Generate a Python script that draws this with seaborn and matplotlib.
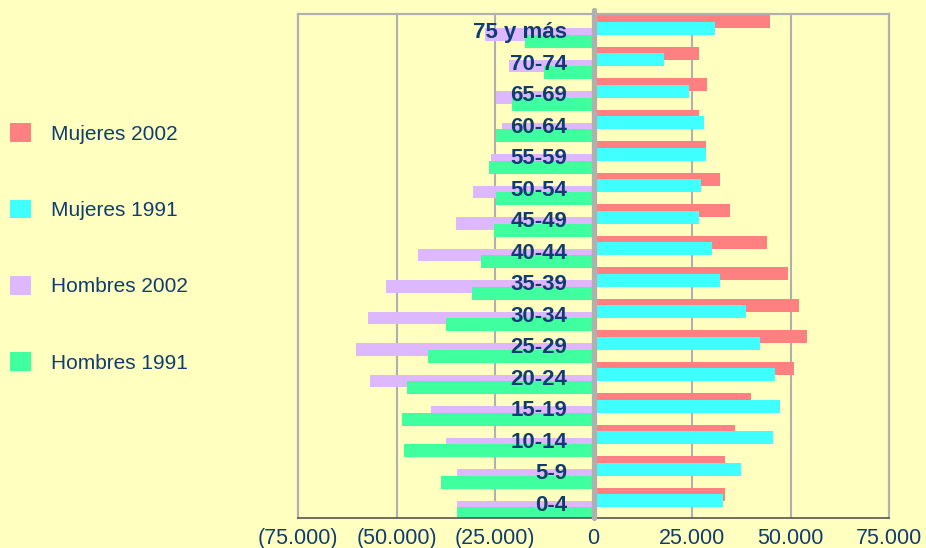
import pandas as pd
import matplotlib.pyplot as plt
import seaborn as sns
from matplotlib.patches import Patch

# Age groups (top to bottom)
grupos = ["75 y más", "70-74", "65-69", "60-64", "55-59", "50-54", "45-49", "40-44",
          "35-39", "30-34", "25-29", "20-24", "15-19", "10-14", "5-9", "0-4"]

mujeres_2002 = [44900, 26650, 28930, 26650, 28680, 31980, 34770, 43910,
                49490, 52280, 54310, 51010, 39850, 36040, 33500, 33500]
mujeres_1991 = [30960, 17770, 24360, 28170, 28680, 27160, 26650, 30200,
                31980, 38580, 42380, 46190, 47460, 45680, 37560, 32990]
hombres_2002 = [27660, 21320, 24870, 23350, 26140, 30710, 35020, 44420,
                52540, 57360, 60400, 56850, 41370, 37310, 34770, 34520]
hombres_1991 = [17510, 12690, 20560, 24870, 26400, 24620, 25130, 28680,
                30960, 37310, 42130, 47210, 48730, 47970, 38830, 34520]

x_ticks = [-75000, -50000, -25000, 0, 25000, 50000, 75000]
x_labels = ["(75.000)", "(50.000)", "(25.000)", "0", "25.000", "50.000", "75.000"]

# Styling
bg = "#FFFFBF"
navy = "#103C72"
grid_grey = "#B0B0B0"
series = [
    ("Mujeres 2002", mujeres_2002, 1, "#FF8080", -0.255),
    ("Mujeres 1991", mujeres_1991, 1, "#40FFFF", -0.048),
    ("Hombres 2002", hombres_2002, -1, "#DDB8FF", 0.15),
    ("Hombres 1991", hombres_1991, -1, "#40FF9F", 0.37),
]

sns.set_theme(style="white")
plt.rcParams["font.family"] = ["Liberation Sans", "DejaVu Sans"]

fig = plt.figure(figsize=(9.26, 5.48), dpi=100, facecolor=bg)
ax = fig.add_axes([298 / 926, 1 - 518 / 548, 591 / 926, 504 / 548])
ax.set_facecolor(bg)

for nombre, valores, signo, color, off in series:
    df = pd.DataFrame({
        "pos": [i + off for i in range(len(grupos))],
        "valor": [signo * v for v in valores],
    })
    sns.barplot(data=df, x="valor", y="pos", orient="h", native_scale=True,
                color=color, saturation=1, width=0.41, linewidth=0,
                errorbar=None, ax=ax, zorder=2)

# gridlines
for xv in [-50000, -25000, 25000, 50000]:
    ax.axvline(xv, color=grid_grey, lw=1.5, zorder=0)
ax.axvline(0, ymin=0, ymax=1.008, color=grid_grey, lw=3.8, zorder=5, clip_on=False)

# category labels inside the plot
for i, g in enumerate(grupos):
    ax.text(-6600, i + 0.1, g, ha="right", va="center", fontsize=16,
            fontweight="bold", color=navy, zorder=6)

ax.set_xlim(-75000, 75000)
ax.set_ylim(len(grupos) - 0.5, -0.5)
ax.set_yticks([])
ax.set_xticks(x_ticks)
ax.set_xticklabels(x_labels, fontsize=15.5, color=navy)
ax.tick_params(axis="x", length=0, pad=7)
ax.set_xlabel("")
ax.set_ylabel("")

for side in ["left", "top", "right"]:
    ax.spines[side].set_color(grid_grey)
    ax.spines[side].set_linewidth(1.6)
ax.spines["bottom"].set_color("#555555")
ax.spines["bottom"].set_linewidth(1.2)

handles = [Patch(facecolor=c, edgecolor="none") for _, _, _, c, _ in series]
labels = [n for n, _, _, _, _ in series]
leg = fig.legend(handles, labels, loc="center left", bbox_to_anchor=(10 / 926, 1 - 248 / 548),
                 frameon=False, fontsize=15, handlelength=1.0, handleheight=1.0,
                 handletextpad=0.95, labelspacing=2.68, borderpad=0, borderaxespad=0)
for t in leg.get_texts():
    t.set_color(navy)

fig.savefig("out.png", dpi=100, facecolor=bg)
